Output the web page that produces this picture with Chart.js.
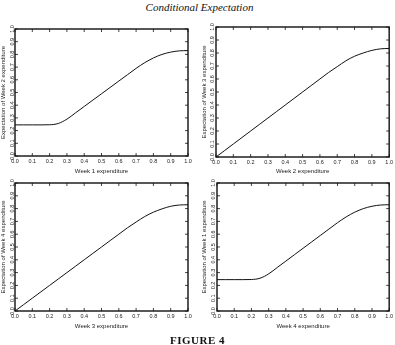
<!DOCTYPE html>
<html>
<head>
<meta charset="utf-8">
<script src="https://cdn.jsdelivr.net/npm/chart.js@4/dist/chart.umd.min.js"></script>
<style>
  html, body { margin: 0; padding: 0; background: #fff; }
  #page { position: relative; width: 395px; height: 345px; overflow: hidden; }
  canvas { position: absolute; }
  .title { position: absolute; left: 0; width: 395px; text-align: center; color: #111; }
  #top { top: 1px; font: italic 11px "Liberation Serif", "DejaVu Serif", serif; padding-left: 2px; }
  #fig { top: 334px; font: bold 11px "Liberation Serif", "DejaVu Serif", serif; letter-spacing: 0.5px; }
</style>
</head>
<body>
<div id="page">
  <div class="title" id="top">Conditional Expectation</div>
  <canvas id="c1" width="195" height="160" style="left:0;top:20px"></canvas>
  <canvas id="c2" width="200" height="160" style="left:195px;top:20px"></canvas>
  <canvas id="c3" width="195" height="160" style="left:0;top:175px"></canvas>
  <canvas id="c4" width="200" height="160" style="left:195px;top:175px"></canvas>
  <div class="title" id="fig">FIGURE 4</div>
</div>
<script>
// ---- data ----
const xValues = [0, 0.05, 0.1, 0.15, 0.2, 0.25, 0.3, 0.35, 0.4, 0.45, 0.5,
                 0.55, 0.6, 0.65, 0.7, 0.75, 0.8, 0.85, 0.9, 0.95, 1.0];

// E[week2 | week1]
const week2GivenWeek1 = [0.245, 0.245, 0.245, 0.245, 0.246, 0.256, 0.29, 0.34, 0.39, 0.44, 0.49,
                         0.54, 0.59, 0.64, 0.69, 0.735, 0.772, 0.80, 0.818, 0.828, 0.83];
// E[week3 | week2]
const week3GivenWeek2 = [0.0, 0.05, 0.1, 0.15, 0.2, 0.25, 0.3, 0.35, 0.4, 0.45, 0.5,
                         0.55, 0.6, 0.65, 0.695, 0.74, 0.775, 0.80, 0.82, 0.832, 0.835];
// E[week4 | week3]
const week4GivenWeek3 = [0.0, 0.05, 0.1, 0.15, 0.2, 0.25, 0.3, 0.35, 0.4, 0.45, 0.5,
                         0.55, 0.6, 0.65, 0.695, 0.738, 0.772, 0.798, 0.818, 0.828, 0.83];
// E[week1 | week4]
const week1GivenWeek4 = [0.245, 0.245, 0.245, 0.245, 0.246, 0.256, 0.29, 0.34, 0.39, 0.44, 0.49,
                         0.54, 0.59, 0.64, 0.69, 0.735, 0.772, 0.80, 0.818, 0.828, 0.83];

const tickValues = [0, 0.1, 0.2, 0.3, 0.4, 0.5, 0.6, 0.7, 0.8, 0.9, 1.0];

const xTitles = ['Week 1 expenditure', 'Week 2 expenditure', 'Week 3 expenditure', 'Week 4 expenditure'];
const yTitles = ['Expectation of Week 2 expenditure', 'Expectation of Week 3 expenditure',
                 'Expectation of Week 4 expenditure', 'Expectation of Week 1 expenditure'];

// ---- look ----
const INK = '#111';
const tickFont = { family: "'Liberation Sans', Arial, sans-serif", size: 5.5 };
const titleFont = { family: "'Liberation Sans', Arial, sans-serif", size: 6 };

// box round the plot with small inward ticks on all four sides
const frameTicks = {
  id: 'frameTicks',
  afterDraw(chart) {
    const { ctx, chartArea: a, scales } = chart;
    ctx.save();
    ctx.strokeStyle = INK;
    ctx.lineWidth = 0.8;
    ctx.beginPath();
    tickValues.forEach(v => {
      const px = scales.x.getPixelForValue(v);
      const py = scales.y.getPixelForValue(v);
      ctx.moveTo(px, a.bottom); ctx.lineTo(px, a.bottom - 3);
      ctx.moveTo(px, a.top);    ctx.lineTo(px, a.top + 3);
      ctx.moveTo(a.left, py);   ctx.lineTo(a.left + 3, py);
      ctx.moveTo(a.right, py);  ctx.lineTo(a.right - 3, py);
    });
    ctx.stroke();
    ctx.lineWidth = 1.4;
    ctx.strokeRect(a.left, a.top, a.right - a.left, a.bottom - a.top);
    ctx.restore();
  }
};

function makePanel(id, series, xTitle, yTitle, box) {
  new Chart(document.getElementById(id), {
    type: 'line',
    data: {
      datasets: [{
        data: xValues.map((x, i) => ({ x: x, y: series[i] })),
        borderColor: INK,
        borderWidth: 1,
        pointRadius: 0,
        tension: 0.4,
        cubicInterpolationMode: 'monotone',
        fill: false
      }]
    },
    options: {
      responsive: false,
      animation: false,
      layout: { padding: { top: box.top, right: box.right, left: 0, bottom: 0 } },
      plugins: { legend: { display: false }, tooltip: { enabled: false } },
      scales: {
        x: {
          type: 'linear', min: 0, max: 1,
          grid: { display: false, drawTicks: false },
          border: { display: false },
          afterBuildTicks: s => { s.ticks = tickValues.map(v => ({ value: v })); },
          afterFit: s => { s.height = box.xH; },
          ticks: { color: '#222', font: tickFont, padding: 2, maxRotation: 0,
                   autoSkip: false, callback: v => v.toFixed(1) },
          title: { display: true, text: xTitle, color: '#222', font: titleFont,
                   padding: { top: 0, bottom: 5 } }
        },
        y: {
          type: 'linear', min: 0, max: 1,
          grid: { display: false, drawTicks: false },
          border: { display: false },
          afterBuildTicks: s => { s.ticks = tickValues.map(v => ({ value: v })); },
          afterFit: s => { s.width = box.yW; },
          ticks: { color: '#222', font: tickFont, padding: box.yPad, minRotation: 90, maxRotation: 90,
                   crossAlign: 'center', autoSkip: false, callback: v => v.toFixed(1) },
          title: { display: true, text: yTitle, color: '#222', font: titleFont,
                   padding: { top: box.tPad, bottom: 0 } }
        }
      }
    },
    plugins: [frameTicks]
  });
}

makePanel('c1', week2GivenWeek1, xTitles[0], yTitles[0], { top: 9, right: 7, yW: 15, xH: 24, yPad: -1, tPad: 0 });
makePanel('c2', week3GivenWeek2, xTitles[1], yTitles[1], { top: 7, right: 5, yW: 21, xH: 23, yPad: 0, tPad: 6 });
makePanel('c3', week4GivenWeek3, xTitles[2], yTitles[2], { top: 8, right: 7, yW: 15, xH: 24, yPad: -1, tPad: 0 });
makePanel('c4', week1GivenWeek4, xTitles[3], yTitles[3], { top: 8, right: 4, yW: 22, xH: 24, yPad: 0, tPad: 6 });
</script>
</body>
</html>
